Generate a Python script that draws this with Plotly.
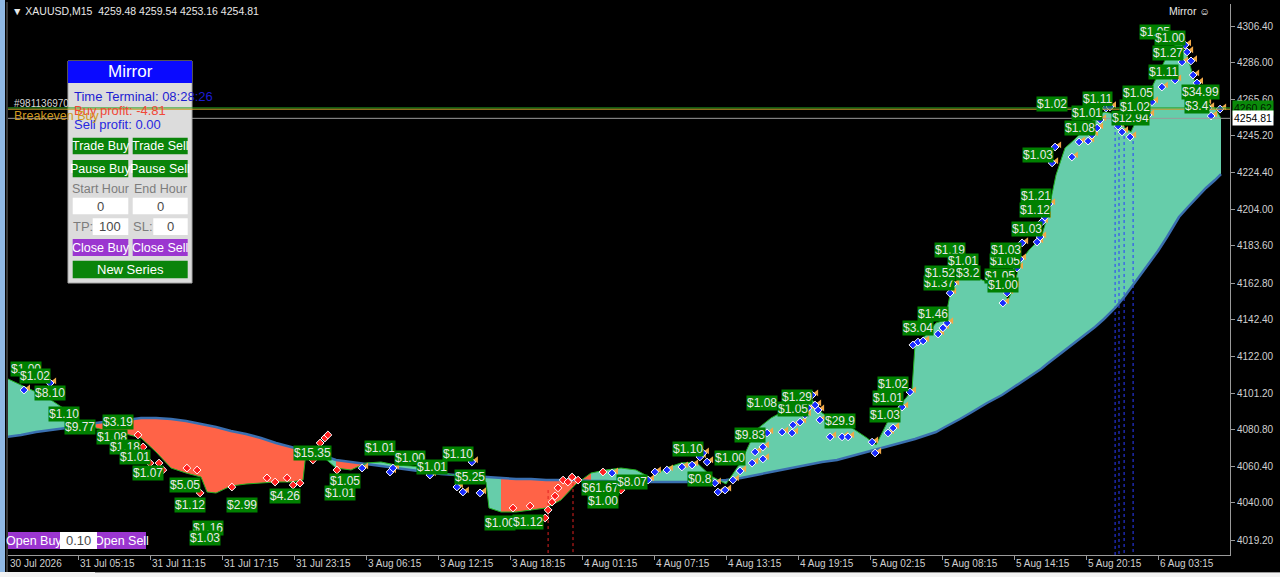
import plotly.graph_objects as go

# ---------------- data ----------------
bar_idx = [0, 5, 10, 15, 20, 25, 30, 35, 40, 45, 50, 55, 60, 65, 67, 70, 75, 80, 85, 90,
           95, 99, 100, 105, 110, 115, 120, 125, 130, 135, 140, 145, 150, 155, 160, 161, 165, 170, 175, 180,
           185, 190, 195, 200, 205, 210, 215, 220, 225, 230, 235, 240, 245, 250, 255, 260, 265, 268, 272, 277,
           282, 287, 290, 295, 300, 302, 303, 307, 310, 313, 315, 318, 322, 327, 332, 334, 336, 338, 341, 345,
           347, 350, 353, 356, 360, 363, 366, 370, 373, 375, 378, 381, 384, 387, 391, 394, 397, 400, 403, 405]
close_px = [4109.72, 4105.81, 4101.90, 4097.43, 4091.84, 4085.14, 4081.78, 4079.55, 4078.43, 4076.20,
            4068.37, 4059.43, 4056.64, 4054.40, 4046.02, 4045.46, 4049.38, 4050.49, 4051.05, 4051.61,
            4051.61, 4052.73, 4068.37, 4066.70, 4059.43, 4058.32, 4062.23, 4062.79, 4061.11, 4060.55,
            4059.43, 4057.20, 4054.96, 4052.73, 4051.61, 4037.08, 4034.85, 4034.85, 4035.97, 4037.08,
            4041.55, 4050.49, 4056.64, 4058.32, 4059.43, 4058.32, 4053.85, 4059.43, 4062.23, 4062.79,
            4054.96, 4050.49, 4062.79, 4080.67, 4087.37, 4091.84, 4096.31, 4099.10, 4090.16, 4085.14,
            4081.78, 4076.20, 4072.28, 4089.05, 4098.55, 4103.02, 4128.16, 4134.31, 4140.45, 4142.13,
            4158.89, 4165.60, 4166.71, 4163.36, 4158.89, 4153.30, 4160.57, 4174.54, 4181.24, 4187.95,
            4199.12, 4223.15, 4238.23, 4242.70, 4249.41, 4254.99, 4258.35, 4257.23, 4249.41, 4247.17,
            4258.35, 4268.96, 4279.02, 4289.64, 4298.58, 4288.52, 4270.64, 4263.94, 4260.58, 4254.81]
ma_px = [4076.75, 4077.87, 4079.55, 4080.67, 4081.78, 4083.46, 4084.58, 4085.69, 4086.25, 4087.37,
         4087.37, 4086.81, 4085.69, 4084.02, 4083.46, 4082.34, 4080.11, 4078.43, 4076.20, 4073.40,
         4071.17, 4069.49, 4068.93, 4066.70, 4063.90, 4062.79, 4061.67, 4060.55, 4059.43, 4058.32,
         4057.20, 4056.08, 4055.52, 4054.96, 4054.40, 4054.40, 4053.85, 4053.29, 4053.29, 4052.73,
         4052.73, 4052.73, 4052.17, 4052.17, 4051.61, 4051.61, 4051.61, 4051.61, 4051.61, 4051.61,
         4052.17, 4052.73, 4053.85, 4055.52, 4057.20, 4058.87, 4060.55, 4061.67, 4062.79, 4063.90,
         4066.14, 4068.37, 4069.49, 4071.73, 4073.96, 4075.08, 4075.64, 4077.87, 4079.55, 4082.34,
         4084.02, 4086.81, 4090.72, 4095.75, 4100.22, 4102.46, 4104.69, 4106.93, 4110.28, 4114.75,
         4117.54, 4121.45, 4125.37, 4129.28, 4134.31, 4138.22, 4142.69, 4149.39, 4155.54, 4160.01,
         4166.71, 4173.42, 4180.68, 4188.50, 4199.68, 4205.27, 4210.85, 4215.88, 4220.35, 4223.70]
fill_state = [1, 1, 1, 1, 1, 1, -1, -1, -1, -1, -1, -1, -1, -1, -1, -1, -1, -1, -1, -1,
              -1, -1, 1, 1, -1, -1, 1, 1, 1, 1, 1, 1, 1, 1, 1, 1, -1, -1, -1, -1,
              -1, -1, 1, 1, 1, 1, 1, 1, 1, 1, 1, 1, 1, 1, 1, 1, 1, 1, 1, 1,
              1, 1, 1, 1, 1, 1, 1, 1, 1, 1, 1, 1, 1, 1, 1, 1, 1, 1, 1, 1,
              1, 1, 1, 1, 1, 1, 1, 1, 1, 1, 1, 1, 1, 1, 1, 1, 1, 1, 1, 1]

y_ticks = [4306.40, 4286.00, 4265.60, 4245.20, 4224.40, 4204.00, 4183.60, 4162.80,
           4142.40, 4122.00, 4101.20, 4080.80, 4060.40, 4040.00, 4019.20]
x_tick_bars = [0.67, 24, 48, 72, 96, 120, 144, 168, 192, 216, 240, 264, 288, 312, 336, 360, 384]
x_tick_labels = ["30 Jul 2026", "31 Jul 05:15", "31 Jul 11:15", "31 Jul 17:15", "31 Jul 23:15",
                 "3 Aug 06:15", "3 Aug 12:15", "3 Aug 18:15", "4 Aug 01:15", "4 Aug 07:15",
                 "4 Aug 13:15", "4 Aug 19:15", "5 Aug 02:15", "5 Aug 08:15", "5 Aug 14:15",
                 "5 Aug 20:15", "6 Aug 03:15"]

profit_bar = [6.7, 9.7, 14.7, 19.3, 24.7, 35.3, 37.3, 39.7, 43, 47.3, 59.7, 61.3, 78.7, 93, 67.3, 66.3,
              102, 111.3, 113, 124.7, 134.7, 142, 150.7, 154.7, 164.7, 174, 198, 199, 208.7, 227.3,
              231.3, 241.3, 248, 252, 262.3, 263.7, 278, 293, 294, 295.7, 304, 309, 311, 311.3,
              314.7, 319, 320.7, 331.3, 332.3, 333, 333.3, 340.3, 343, 343.3, 344, 348.7, 358, 360.3,
              363.7, 374.7, 376.3, 377.3, 383, 385.7, 387.3, 388, 397, 398]
profit_price = [4114.75, 4110.84, 4101.34, 4089.61, 4082.34, 4076.75, 4085.14, 4071.17, 4065.58, 4056.64,
                4049.94, 4038.76, 4038.76, 4043.79, 4025.91, 4020.32, 4067.81, 4045.46, 4052.17, 4070.61,
                4065.02, 4059.99, 4067.26, 4054.40, 4028.70, 4029.26, 4048.26, 4040.99, 4051.61, 4070.05,
                4053.29, 4065.02, 4077.87, 4095.75, 4092.40, 4099.10, 4085.69, 4089.05, 4098.55, 4106.37,
                4137.66, 4145.48, 4162.80, 4168.39, 4181.24, 4175.09, 4168.39, 4166.71, 4161.68, 4175.09,
                4181.24, 4192.97, 4203.59, 4211.41, 4234.32, 4262.82, 4249.41, 4257.79, 4265.61, 4254.99,
                4261.14, 4268.96, 4303.05, 4280.70, 4291.31, 4299.69, 4261.70, 4269.52]
profit_text = ["$1.00", "$1.02", "$8.10", "$1.10", "$9.77", "$1.08", "$3.19", "$1.18", "$1.01", "$1.07",
               "$5.05", "$1.12", "$2.99", "$4.26", "$1.16", "$1.03", "$15.35", "$1.01", "$1.05", "$1.01",
               "$1.00", "$1.01", "$1.10", "$5.25", "$1.00", "$1.12", "$61.67", "$1.00", "$8.07", "$1.10",
               "$0.8", "$1.00", "$9.83", "$1.08", "$1.05", "$1.29", "$29.9", "$1.03", "$1.01", "$1.02",
               "$3.04", "$1.46", "$1.37", "$1.52", "$1.19", "$1.01", "$3.2", "$1.05", "$1.00", "$1.05",
               "$1.03", "$1.03", "$1.12", "$1.21", "$1.03", "$1.02", "$1.08", "$1.01", "$1.11", "$12.94",
               "$1.02", "$1.05", "$1.05", "$1.11", "$1.27", "$1.00", "$3.4", "$34.99"]

buy_bar = [6, 14.7, 118.7, 128, 129, 141.3, 150.3, 152.3, 155.3, 158, 202, 214, 216.3, 220.3, 225.3,
           228.7, 231.3, 232.3, 233.7, 236.3, 237.3, 239.7, 242.3, 244.7, 248.7, 249.7, 252.3, 252.3,
           253.7, 258.7, 262, 262.3, 264.7, 266.3, 267.3, 268.7, 269.7, 270.7, 271.3, 274.7, 278.7,
           280.7, 288.7, 289.7, 294, 295.7, 298.7, 301.3, 302.3, 304, 305.7, 310.7, 312.3, 313.7,
           314.7, 315.7, 332.3, 333.7, 335.7, 337, 338, 338.7, 343.7, 344.7, 345.3, 346.3, 347.7,
           348.7, 349.7, 355.3, 357.7, 360.7, 362, 363.7, 364.7, 366.7, 368, 370.7, 372, 374.7,
           380.7, 382, 385.3, 389.7, 392, 393, 393.7, 395, 395.7, 397, 399.7, 400.7, 401.7, 404.7]
buy_price = [4103.0, 4106.9, 4059.4, 4057.2, 4059.4, 4055.5, 4048.8, 4046.0, 4062.8, 4045.5, 4056.6,
             4052.7, 4057.2, 4058.3, 4060.0, 4061.1, 4065.6, 4067.8, 4062.8, 4051.0, 4046.0, 4047.1,
             4052.7, 4057.8, 4062.2, 4068.4, 4064.5, 4071.2, 4079.0, 4079.5, 4079.0, 4083.5, 4085.1,
             4089.1, 4093.0, 4100.2, 4094.6, 4091.8, 4086.3, 4076.8, 4076.8, 4076.8, 4073.9, 4067.8,
             4079.0, 4081.8, 4093.5, 4101.9, 4128.2, 4129.8, 4130.4, 4134.3, 4137.7, 4140.5, 4157.2,
             4162.2, 4151.6, 4157.2, 4161.1, 4171.2, 4176.2, 4185.2, 4185.7, 4188.5, 4196.9, 4199.7,
             4207.0, 4229.9, 4238.8, 4233.2, 4241.6, 4242.1, 4245.5, 4249.4, 4253.9, 4260.6, 4261.2,
             4250.5, 4247.2, 4244.4, 4256.7, 4264.0, 4272.3, 4276.2, 4286.3, 4295.8, 4291.9, 4286.9,
             4279.0, 4274.6, 4263.4, 4260.6, 4256.1, 4260.0]

sell_bar = [44, 45.7, 48, 51, 52.3, 60.3, 63.7, 64.7, 75.3, 87, 89.7, 93.7, 95.7, 98, 102.3, 104.7,
            106.3, 107.3, 110.3, 169, 174.7, 179.7, 180.7, 182, 183, 184, 185.7, 187.3, 188.7, 190.7,
            199, 203.7, 205]
sell_price = [4077.9, 4071.2, 4062.2, 4062.2, 4058.3, 4059.4, 4058.3, 4045.5, 4048.8, 4053.9, 4051.6,
              4053.9, 4049.9, 4051.0, 4063.9, 4073.4, 4076.2, 4077.9, 4058.3, 4037.1, 4038.2, 4031.5,
              4036.0, 4040.4, 4043.8, 4048.3, 4052.7, 4051.6, 4054.4, 4052.7, 4057.2, 4047.1, 4047.1]

blue_vline_bar = [369.7, 371.0, 372.7, 375.7]
blue_vline_top = [4253.9, 4251.1, 4248.3, 4245.5]
red_vline_bar = [180.7, 189.0]
red_vline_top = [4047.1, 4051.0]

order_price = 4260.62
breakeven_price = 4259.90
bid_price = 4254.81

# ---------------- figure ----------------
Y_MIN, Y_MAX = 4010.82, 4318.70
X_MIN, X_MAX = 0.667, 408.0
TEAL, SALMON = "#66CDAA", "#FF6347"
FONT = "Liberation Sans"

fig = go.Figure()

# fill between price and moving average, coloured by state
n = len(bar_idx)
start = 0
segments = []
for i in range(1, n):
    if fill_state[i] != fill_state[start]:
        segments.append((start, i, fill_state[start]))
        start = i
segments.append((start, n - 1, fill_state[start]))
for s, e, st in segments:
    xs = bar_idx[s:e + 1]
    fig.add_trace(go.Scatter(x=xs, y=ma_px[s:e + 1], mode="lines", line=dict(width=0),
                             hoverinfo="skip", showlegend=False))
    fig.add_trace(go.Scatter(x=xs, y=close_px[s:e + 1], mode="lines", line=dict(width=0),
                             fill="tonexty", fillcolor=TEAL if st == 1 else SALMON,
                             hoverinfo="skip", showlegend=False))

# vertical dotted lines
vx, vy = [], []
for b, t in zip(blue_vline_bar, blue_vline_top):
    vx += [b, b, None]
    vy += [t, Y_MIN, None]
fig.add_trace(go.Scatter(x=vx, y=vy, mode="lines", line=dict(color="#2a3cff", width=1, dash="dot"),
                         hoverinfo="skip", showlegend=False))
rx, ry = [], []
for b, t in zip(red_vline_bar, red_vline_top):
    rx += [b, b, None]
    ry += [t, Y_MIN, None]
fig.add_trace(go.Scatter(x=rx, y=ry, mode="lines", line=dict(color="#e02020", width=1, dash="dot"),
                         hoverinfo="skip", showlegend=False))

# moving average and price
fig.add_trace(go.Scatter(x=bar_idx, y=ma_px, mode="lines", line=dict(color="#3a6fb0", width=2.5),
                         hoverinfo="skip", showlegend=False))
fig.add_trace(go.Scatter(x=bar_idx, y=close_px, mode="lines", line=dict(color="#22b022", width=1),
                         hoverinfo="skip", showlegend=False))

# trade markers
fig.add_trace(go.Scatter(x=[b + 1.5 for b in buy_bar], y=[p + 1.2 for p in buy_price], mode="markers",
                         marker=dict(symbol="triangle-left", size=6, color="#f0a848"),
                         hoverinfo="skip", showlegend=False))
fig.add_trace(go.Scatter(x=buy_bar, y=buy_price, mode="markers",
                         marker=dict(symbol="diamond", size=6, color="#1a2cff",
                                     line=dict(color="#ffffff", width=1)),
                         hoverinfo="skip", showlegend=False))
fig.add_trace(go.Scatter(x=sell_bar, y=sell_price, mode="markers",
                         marker=dict(symbol="diamond", size=6, color="#ff2020",
                                     line=dict(color="#ffffff", width=1)),
                         hoverinfo="skip", showlegend=False))

annotations = []
for b, p, t in zip(profit_bar, profit_price, profit_text):
    annotations.append(dict(x=b, y=p, xref="x", yref="y", text=t, showarrow=False,
                            font=dict(family=FONT, size=12, color="#e8e8e8"),
                            bgcolor="#008000", borderpad=0, xanchor="center", yanchor="middle"))


# layout helpers (pixel -> paper) for the panel / window decoration
def PX(x):
    return (x - 8) / 1222.0


def PY(y):
    return (555 - y) / 551.0


shapes = []


def rect(x0, y0, x1, y1, fill, line=None):
    shapes.append(dict(type="rect", xref="paper", yref="paper", x0=PX(x0), x1=PX(x1),
                       y0=PY(y1), y1=PY(y0), fillcolor=fill, layer="above",
                       line=dict(color=line or fill, width=1 if line else 0)))


def text(x, y, t, color, size=13, anchor="center", family=FONT):
    annotations.append(dict(x=PX(x), y=PY(y), xref="paper", yref="paper", text=t, showarrow=False,
                            font=dict(family=family, size=size, color=color),
                            xanchor=anchor, yanchor="middle"))


# bid line (below panel)
shapes.append(dict(type="line", xref="paper", yref="y", x0=0, x1=1, y0=bid_price, y1=bid_price,
                   line=dict(color="#9a9a9a", width=1), layer="above"))

# window decoration
rect(0, 0, 5, 577, "#8fb8e4")
shapes.append(dict(type="line", xref="paper", yref="paper", x0=PX(7), x1=PX(7), y0=PY(577), y1=PY(2),
                   line=dict(color="#6a6a6a", width=1), layer="above"))
rect(0, 572, 1280, 577, "#f2f2f2")
shapes.append(dict(type="line", xref="paper", yref="paper", x0=PX(95), x1=PX(1280), y0=PY(572.5),
                   y1=PY(572.5), line=dict(color="#9a9a9a", width=1), layer="above"))

# Mirror panel
rect(68, 61, 192, 283, "#dcdcdc", "#a8a8a8")
rect(68, 61, 192, 83, "#0a0aff")
GREEN_BTN, PURPLE_BTN = "#0a840a", "#9b36d0"
rect(72.7, 137.7, 128.3, 154.3, GREEN_BTN)
rect(132.7, 137.7, 187.7, 154.3, GREEN_BTN)
rect(72.7, 160, 128.3, 177.3, GREEN_BTN)
rect(132.7, 160, 187.7, 177.3, GREEN_BTN)
rect(72.7, 197.7, 128.3, 214.3, "#ffffff")
rect(132.7, 197.7, 187.7, 214.3, "#ffffff")
rect(92.7, 218.3, 128.3, 235, "#ffffff")
rect(153.3, 218.3, 187.7, 235, "#ffffff")
rect(72.7, 239, 128.3, 256, PURPLE_BTN)
rect(132.7, 239, 187.7, 256, PURPLE_BTN)
rect(72.7, 260.7, 187.7, 278.3, GREEN_BTN)
# bottom-left order buttons
rect(8, 532, 60, 549, PURPLE_BTN)
rect(60, 532, 97, 549, "#ffffff")
rect(97, 532, 146, 549, PURPLE_BTN)

# order / breakeven lines above the panel
shapes.append(dict(type="line", xref="paper", yref="y", x0=0, x1=1, y0=order_price, y1=order_price,
                   line=dict(color="#1fa01f", width=1), layer="above"))
shapes.append(dict(type="line", xref="paper", yref="y", x0=0, x1=1, y0=breakeven_price,
                   y1=breakeven_price, line=dict(color="#c89a2a", width=1), layer="above"))

# panel texts
text(130, 72, "Mirror", "#ffffff", 17)
text(72, 96.5, "Time Terminal: 08:28:26", "#1c1cd2", 13, "left")
text(72, 110.5, "Buy profit: -4.81", "#f04838", 13, "left")
text(72, 124.5, "Sell profit: 0.00", "#2828e0", 13, "left")
text(100.5, 146, "Trade Buy", "#ffffff", 12.5)
text(160.2, 146, "Trade Sell", "#ffffff", 12.5)
text(100.5, 168.7, "Pause Buy", "#ffffff", 12.5)
text(160.2, 168.7, "Pause Sell", "#ffffff", 12.5)
text(100.5, 189, "Start Hour", "#7c7c7c", 12.5)
text(160.2, 189, "End Hour", "#7c7c7c", 12.5)
text(100.5, 206, "0", "#4a4a4a", 13)
text(160.2, 206, "0", "#4a4a4a", 13)
text(82.5, 226.7, "TP:", "#7c7c7c", 13)
text(110.5, 226.7, "100", "#4a4a4a", 13)
text(143, 226.7, "SL:", "#7c7c7c", 13)
text(170.5, 226.7, "0", "#4a4a4a", 13)
text(100.5, 247.5, "Close Buy", "#ffffff", 12.5)
text(160.2, 247.5, "Close Sell", "#ffffff", 12.5)
text(130.2, 269.5, "New Series", "#ffffff", 13)
text(34, 540.5, "Open Buy", "#ffffff", 12.5)
text(78.5, 540.5, "0.10", "#4a4a4a", 13)
text(121.5, 540.5, "Open Sell", "#ffffff", 12.5)

# chart texts
text(10, 10.5, "▼ XAUUSD,M15  4259.48 4259.54 4253.16 4254.81", "#e8e8e8", 10.5, "left")
text(1212, 11, "Mirror ☺", "#e8e8e8", 10.5, "right")
text(12, 103, "#981136970", "#d8d8d8", 10, "left")
text(12, 115.5, "Breakeven Buy", "#d09a20", 12.5, "left")

# x tick labels (MT4 style: label starts at tick)
for b, t in zip(x_tick_bars, x_tick_labels):
    annotations.append(dict(x=b, y=PY(563), xref="x", yref="paper", text=t, showarrow=False,
                            font=dict(family=FONT, size=10, color="#d0d0d0"),
                            xanchor="left", yanchor="middle", xshift=0))

# price labels on the axis
annotations.append(dict(x=PX(1232), y=order_price, xref="paper", yref="y", text=f"{order_price:.2f}",
                        showarrow=False, font=dict(family=FONT, size=10.5, color="#001a00"),
                        bgcolor="#0a8a0a", borderpad=1, xanchor="left", yanchor="middle"))
annotations.append(dict(x=PX(1232), y=bid_price, xref="paper", yref="y", text=f"{bid_price:.2f}",
                        showarrow=False, font=dict(family=FONT, size=10.5, color="#000000"),
                        bgcolor="#ffffff", borderpad=1, xanchor="left", yanchor="middle"))

fig.update_layout(
    width=1280, height=577,
    margin=dict(l=8, r=50, t=4, b=22),
    paper_bgcolor="#000000", plot_bgcolor="#000000",
    showlegend=False, hovermode=False,
    shapes=shapes, annotations=annotations,
    font=dict(family=FONT, color="#d0d0d0"),
    xaxis=dict(range=[X_MIN, X_MAX], showgrid=False, zeroline=False, showline=True,
               linecolor="#9a9a9a", linewidth=1, ticks="outside", ticklen=4, tickcolor="#9a9a9a",
               tickvals=x_tick_bars[1:], showticklabels=False, fixedrange=True),
    yaxis=dict(range=[Y_MIN, Y_MAX], side="right", showgrid=False, zeroline=False, showline=True,
               linecolor="#9a9a9a", linewidth=1, ticks="outside", ticklen=4, tickcolor="#9a9a9a",
               tickvals=y_ticks, ticktext=[f"{v:.2f}" for v in y_ticks],
               tickfont=dict(family=FONT, size=10, color="#d0d0d0"), fixedrange=True),
)

fig.write_html("out.html", config={"displayModeBar": False, "staticPlot": True},
               post_script="document.body.style.margin='0';document.body.style.overflow='hidden';")
